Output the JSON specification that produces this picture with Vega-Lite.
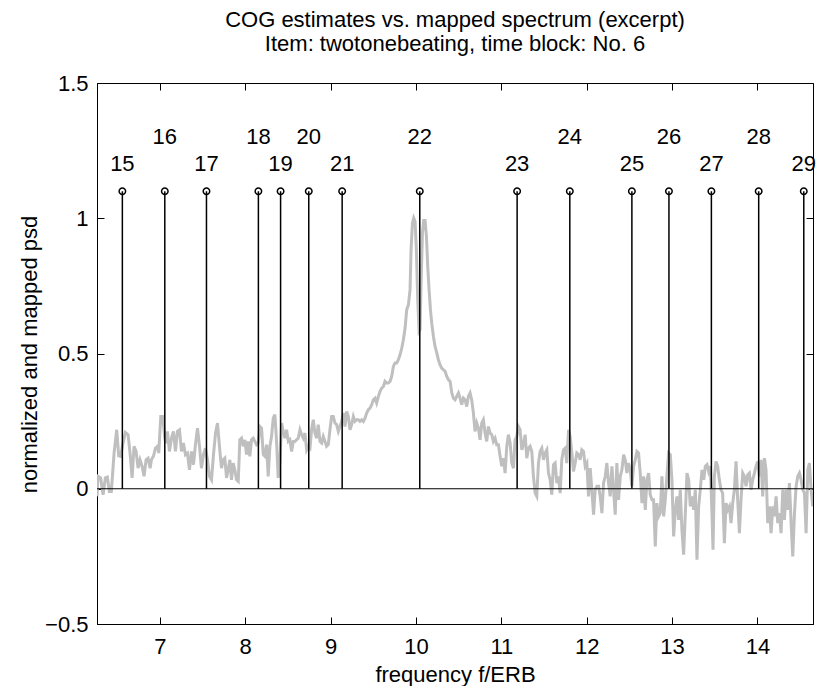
{
  "$schema": "https://vega.github.io/schema/vega-lite/v6.json",
  "width": 716,
  "height": 541,
  "autosize": {"type": "none"},
  "padding": {"left": 97, "top": 83, "right": 5, "bottom": 62},
  "background": "white",
  "config": {
    "view": {"stroke": "black", "strokeWidth": 1},
    "font": "Liberation Sans",
    "axis": {"grid": false, "domainColor": "black", "tickColor": "black", "labelColor": "black", "titleColor": "black", "labelFont": "Liberation Sans", "titleFont": "Liberation Sans", "labelFontSize": 22, "titleFontSize": 22, "titleFontWeight": "normal", "tickSize": -7, "tickWidth": 1, "domainWidth": 1}
  },
  "title": {
    "text": ["COG estimates vs. mapped spectrum (excerpt)", "Item: twotonebeating, time block: No. 6"],
    "font": "Liberation Sans", "fontSize": 22, "fontWeight": "normal", "color": "black", "lineHeight": 24, "anchor": "middle", "offset": 16
  },
  "datasets": {
    "psd": [
      {"f":6.265,"v":-0.028},{"f":6.277,"v":0.046},{"f":6.308,"v":0.040},{"f":6.336,"v":-0.022},{"f":6.363,"v":0.040},{"f":6.386,"v":0.043},{"f":6.410,"v":-0.010},{"f":6.433,"v":-0.010},{"f":6.465,"v":0.132},{"f":6.496,"v":0.218},{"f":6.519,"v":0.122},{"f":6.543,"v":0.120},{"f":6.566,"v":0.163},{"f":6.598,"v":0.208},{"f":6.629,"v":0.200},{"f":6.652,"v":0.132},{"f":6.676,"v":0.040},{"f":6.699,"v":0.157},{"f":6.723,"v":0.138},{"f":6.746,"v":0.076},{"f":6.769,"v":0.107},{"f":6.793,"v":0.083},{"f":6.816,"v":0.046},{"f":6.840,"v":0.107},{"f":6.863,"v":0.113},{"f":6.887,"v":0.076},{"f":6.902,"v":0.107},{"f":6.926,"v":0.120},{"f":6.949,"v":0.150},{"f":6.973,"v":0.157},{"f":6.988,"v":0.132},{"f":7.012,"v":0.267},{"f":7.035,"v":0.267},{"f":7.059,"v":0.187},{"f":7.074,"v":0.169},{"f":7.090,"v":0.212},{"f":7.113,"v":0.138},{"f":7.137,"v":0.187},{"f":7.160,"v":0.212},{"f":7.184,"v":0.138},{"f":7.207,"v":0.212},{"f":7.231,"v":0.218},{"f":7.254,"v":0.138},{"f":7.277,"v":0.169},{"f":7.301,"v":0.126},{"f":7.324,"v":0.132},{"f":7.348,"v":0.070},{"f":7.371,"v":0.138},{"f":7.395,"v":0.089},{"f":7.418,"v":0.163},{"f":7.442,"v":0.224},{"f":7.465,"v":0.157},{"f":7.488,"v":0.076},{"f":7.512,"v":0.126},{"f":7.535,"v":0.150},{"f":7.559,"v":0.107},{"f":7.582,"v":0.046},{"f":7.606,"v":0.033},{"f":7.629,"v":0.126},{"f":7.653,"v":0.206},{"f":7.676,"v":0.243},
      {"f":7.704,"v":0.138},{"f":7.723,"v":0.076},{"f":7.743,"v":0.107},{"f":7.762,"v":0.113},{"f":7.782,"v":0.040},{"f":7.801,"v":0.070},{"f":7.821,"v":0.107},{"f":7.840,"v":0.033},{"f":7.860,"v":0.095},{"f":7.879,"v":0.070},{"f":7.899,"v":0.033},{"f":7.919,"v":0.027},{"f":7.938,"v":0.181},{"f":7.958,"v":0.187},{"f":7.977,"v":0.157},{"f":7.997,"v":0.181},{"f":8.016,"v":0.126},{"f":8.036,"v":0.175},{"f":8.055,"v":0.120},{"f":8.075,"v":0.181},{"f":8.094,"v":0.187},{"f":8.114,"v":0.175},{"f":8.133,"v":0.163},{"f":8.153,"v":0.169},{"f":8.173,"v":0.230},{"f":8.192,"v":0.224},{"f":8.212,"v":0.126},{"f":8.231,"v":0.120},{"f":8.251,"v":0.163},{"f":8.270,"v":0.046},{"f":8.290,"v":0.157},{"f":8.309,"v":0.193},{"f":8.329,"v":0.261},{"f":8.348,"v":0.274},{"f":8.368,"v":0.175},{"f":8.387,"v":0.040},{"f":8.407,"v":0.101},{"f":8.427,"v":0.243},{"f":8.446,"v":0.212},{"f":8.466,"v":0.187},{"f":8.485,"v":0.218},{"f":8.505,"v":0.175},{"f":8.524,"v":0.181},{"f":8.544,"v":0.138},{"f":8.563,"v":0.175},{"f":8.583,"v":0.175},{"f":8.602,"v":0.181},{"f":8.622,"v":0.187},{"f":8.642,"v":0.218},{"f":8.661,"v":0.200},{"f":8.681,"v":0.187},{"f":8.700,"v":0.206},{"f":8.720,"v":0.144},{"f":8.739,"v":0.157},{"f":8.759,"v":0.150},{"f":8.778,"v":0.218},{"f":8.798,"v":0.255},{"f":8.817,"v":0.206},{"f":8.837,"v":0.187},{"f":8.856,"v":0.237},{"f":8.876,"v":0.175},{"f":8.896,"v":0.169},{"f":8.915,"v":0.193},{"f":8.935,"v":0.175},{"f":8.954,"v":0.157},{"f":8.974,"v":0.163},{"f":8.993,"v":0.218},{"f":9.013,"v":0.267},{"f":9.032,"v":0.267},{"f":9.052,"v":0.243},{"f":9.071,"v":0.237},{"f":9.091,"v":0.212},{"f":9.110,"v":0.230},
      {"f":9.130,"v":0.249},{"f":9.150,"v":0.280},{"f":9.169,"v":0.230},{"f":9.189,"v":0.286},{"f":9.208,"v":0.267},{"f":9.228,"v":0.218},{"f":9.247,"v":0.237},{"f":9.267,"v":0.267},{"f":9.286,"v":0.249},{"f":9.306,"v":0.255},{"f":9.326,"v":0.255},{"f":9.345,"v":0.249},{"f":9.365,"v":0.255},{"f":9.384,"v":0.249},{"f":9.404,"v":0.261},{"f":9.423,"v":0.280},{"f":9.443,"v":0.292},{"f":9.462,"v":0.298},{"f":9.482,"v":0.311},{"f":9.501,"v":0.329},{"f":9.521,"v":0.335},{"f":9.540,"v":0.317},{"f":9.560,"v":0.341},{"f":9.580,"v":0.360},{"f":9.599,"v":0.372},{"f":9.619,"v":0.378},{"f":9.638,"v":0.397},{"f":9.658,"v":0.391},{"f":9.677,"v":0.391},{"f":9.697,"v":0.397},{"f":9.716,"v":0.415},{"f":9.736,"v":0.452},{"f":9.755,"v":0.465},{"f":9.775,"v":0.465},{"f":9.794,"v":0.477},{"f":9.814,"v":0.495},{"f":9.834,"v":0.520},{"f":9.853,"v":0.551},{"f":9.873,"v":0.594},{"f":9.892,"v":0.662},{"f":9.912,"v":0.680},{"f":9.931,"v":0.736},{"f":9.943,"v":0.884},{"f":9.959,"v":0.982},{"f":9.974,"v":1.001},{"f":9.990,"v":0.988},{"f":10.005,"v":0.884},{"f":10.021,"v":0.699},{"f":10.037,"v":0.582},{"f":10.048,"v":0.588},{"f":10.060,"v":0.760},{"f":10.076,"v":0.945},{"f":10.091,"v":0.992},{"f":10.107,"v":0.992},{"f":10.123,"v":0.933},{"f":10.138,"v":0.822},{"f":10.154,"v":0.736},{"f":10.170,"v":0.662},{"f":10.185,"v":0.612},{"f":10.205,"v":0.563},{"f":10.224,"v":0.526},{"f":10.244,"v":0.502},{"f":10.263,"v":0.477},{"f":10.283,"v":0.458},{"f":10.302,"v":0.446},{"f":10.322,"v":0.440},{"f":10.342,"v":0.434},{"f":10.361,"v":0.415},{"f":10.381,"v":0.403},{"f":10.400,"v":0.397},{"f":10.420,"v":0.354},{"f":10.439,"v":0.335},{"f":10.459,"v":0.329},{"f":10.478,"v":0.341},{"f":10.498,"v":0.354},{"f":10.517,"v":0.335},
      {"f":10.536,"v":0.311},{"f":10.556,"v":0.335},{"f":10.575,"v":0.329},{"f":10.595,"v":0.304},{"f":10.614,"v":0.341},{"f":10.634,"v":0.354},{"f":10.653,"v":0.329},{"f":10.673,"v":0.280},{"f":10.692,"v":0.212},{"f":10.712,"v":0.243},{"f":10.732,"v":0.224},{"f":10.751,"v":0.181},{"f":10.771,"v":0.243},{"f":10.790,"v":0.255},{"f":10.810,"v":0.206},{"f":10.829,"v":0.175},{"f":10.849,"v":0.230},{"f":10.868,"v":0.206},{"f":10.888,"v":0.200},{"f":10.907,"v":0.175},{"f":10.927,"v":0.187},{"f":10.946,"v":0.163},{"f":10.966,"v":0.163},{"f":10.986,"v":0.120},{"f":11.005,"v":0.083},{"f":11.025,"v":0.113},{"f":11.044,"v":0.058},{"f":11.064,"v":0.157},{"f":11.083,"v":0.200},{"f":11.103,"v":0.169},{"f":11.122,"v":0.095},{"f":11.142,"v":0.076},{"f":11.161,"v":0.181},{"f":11.181,"v":0.193},{"f":11.200,"v":0.230},{"f":11.220,"v":0.218},{"f":11.240,"v":0.144},{"f":11.259,"v":0.163},{"f":11.279,"v":0.200},{"f":11.298,"v":0.113},{"f":11.318,"v":0.150},{"f":11.337,"v":0.157},{"f":11.357,"v":0.138},{"f":11.376,"v":0.046},{"f":11.396,"v":-0.016},{"f":11.415,"v":-0.028},{"f":11.435,"v":0.095},{"f":11.454,"v":0.138},{"f":11.474,"v":0.150},{"f":11.494,"v":0.107},{"f":11.513,"v":0.132},{"f":11.533,"v":0.144},{"f":11.552,"v":0.058},{"f":11.572,"v":0.033},{"f":11.591,"v":-0.022},{"f":11.611,"v":0.089},{"f":11.630,"v":0.095},{"f":11.650,"v":0.021},{"f":11.669,"v":0.046},{"f":11.689,"v":-0.016},{"f":11.708,"v":0.107},{"f":11.728,"v":0.144},{"f":11.748,"v":0.150},{"f":11.767,"v":0.095},{"f":11.787,"v":0.218},{"f":11.806,"v":0.193},{"f":11.826,"v":0.132},{"f":11.845,"v":0.064},{"f":11.865,"v":0.095},{"f":11.884,"v":0.132},{"f":11.904,"v":0.126},{"f":11.923,"v":0.107},
      {"f":11.943,"v":0.144},{"f":11.963,"v":0.138},{"f":11.982,"v":0.083},{"f":12.002,"v":0.095},{"f":12.021,"v":-0.028},{"f":12.041,"v":0.076},{"f":12.060,"v":-0.004},{"f":12.080,"v":-0.096},{"f":12.099,"v":-0.004},{"f":12.119,"v":0.009},{"f":12.139,"v":0.009},{"f":12.158,"v":-0.028},{"f":12.178,"v":-0.090},{"f":12.197,"v":0.021},{"f":12.217,"v":0.046},{"f":12.236,"v":0.095},{"f":12.256,"v":0.021},{"f":12.275,"v":-0.028},{"f":12.295,"v":0.083},{"f":12.314,"v":-0.004},{"f":12.334,"v":-0.096},{"f":12.353,"v":0.095},{"f":12.373,"v":-0.041},{"f":12.393,"v":0.046},{"f":12.412,"v":0.070},{"f":12.432,"v":0.126},{"f":12.451,"v":0.107},{"f":12.471,"v":0.058},{"f":12.490,"v":0.095},{"f":12.510,"v":0.070},{"f":12.529,"v":0.009},{"f":12.549,"v":0.083},{"f":12.568,"v":0.107},{"f":12.588,"v":0.138},{"f":12.607,"v":0.132},{"f":12.627,"v":0.058},{"f":12.647,"v":-0.053},{"f":12.666,"v":0.046},{"f":12.686,"v":-0.078},{"f":12.705,"v":0.033},{"f":12.725,"v":0.058},{"f":12.744,"v":-0.022},{"f":12.764,"v":-0.041},{"f":12.783,"v":-0.041},{"f":12.803,"v":-0.213},{"f":12.822,"v":-0.053},{"f":12.842,"v":-0.102},{"f":12.861,"v":-0.090},{"f":12.881,"v":0.046},{"f":12.901,"v":-0.102},{"f":12.920,"v":-0.041},{"f":12.940,"v":0.052},{"f":12.959,"v":0.132},{"f":12.979,"v":0.126},{"f":12.998,"v":0.033},{"f":13.018,"v":-0.176},{"f":13.037,"v":-0.078},{"f":13.057,"v":-0.028},{"f":13.076,"v":-0.115},{"f":13.096,"v":-0.004},{"f":13.115,"v":-0.152},{"f":13.135,"v":-0.244},{"f":13.155,"v":-0.090},{"f":13.174,"v":0.058},{"f":13.194,"v":0.033},{"f":13.213,"v":-0.065},{"f":13.233,"v":-0.028},{"f":13.252,"v":-0.078},{"f":13.272,"v":-0.004},{"f":13.291,"v":-0.262},{"f":13.311,"v":-0.065},{"f":13.330,"v":-0.004},
      {"f":13.350,"v":0.070},{"f":13.370,"v":0.033},{"f":13.389,"v":0.083},{"f":13.409,"v":0.089},{"f":13.428,"v":0.064},{"f":13.448,"v":0.083},{"f":13.467,"v":-0.090},{"f":13.479,"v":-0.225},{"f":13.495,"v":0.046},{"f":13.514,"v":0.101},{"f":13.534,"v":0.083},{"f":13.553,"v":0.033},{"f":13.573,"v":-0.004},{"f":13.592,"v":-0.016},{"f":13.612,"v":-0.201},{"f":13.632,"v":-0.053},{"f":13.651,"v":-0.078},{"f":13.671,"v":-0.065},{"f":13.690,"v":-0.127},{"f":13.710,"v":-0.053},{"f":13.729,"v":-0.004},{"f":13.749,"v":0.101},{"f":13.768,"v":-0.041},{"f":13.788,"v":-0.164},{"f":13.807,"v":-0.041},{"f":13.827,"v":0.058},{"f":13.846,"v":0.046},{"f":13.866,"v":0.009},{"f":13.886,"v":0.052},{"f":13.905,"v":0.058},{"f":13.925,"v":-0.004},{"f":13.944,"v":0.033},{"f":13.964,"v":0.058},{"f":13.983,"v":0.083},{"f":14.003,"v":0.101},{"f":14.022,"v":0.046},{"f":14.042,"v":0.107},{"f":14.061,"v":-0.028},{"f":14.081,"v":0.113},{"f":14.100,"v":0.070},{"f":14.120,"v":-0.127},{"f":14.140,"v":-0.065},{"f":14.159,"v":-0.164},{"f":14.179,"v":-0.065},{"f":14.198,"v":-0.102},{"f":14.218,"v":-0.028},{"f":14.237,"v":-0.127},{"f":14.257,"v":-0.090},{"f":14.276,"v":-0.164},{"f":14.296,"v":-0.004},{"f":14.315,"v":-0.115},{"f":14.335,"v":-0.004},{"f":14.354,"v":-0.078},{"f":14.374,"v":0.021},{"f":14.394,"v":-0.127},{"f":14.413,"v":-0.250},{"f":14.433,"v":-0.090},{"f":14.452,"v":0.009},{"f":14.472,"v":0.046},{"f":14.491,"v":0.058},{"f":14.511,"v":0.033},{"f":14.530,"v":-0.004},{"f":14.550,"v":-0.016},{"f":14.569,"v":-0.164},{"f":14.589,"v":0.070},{"f":14.608,"v":0.095},{"f":14.628,"v":-0.004},{"f":14.647,"v":-0.065}
    ],
    "cog": [
      {"f":6.562,"n":"15","base":0,"top":1.1,"ly":1.2},
      {"f":7.059,"n":"16","base":0,"top":1.1,"ly":1.3},
      {"f":7.547,"n":"17","base":0,"top":1.1,"ly":1.2},
      {"f":8.155,"n":"18","base":0,"top":1.1,"ly":1.3},
      {"f":8.415,"n":"19","base":0,"top":1.1,"ly":1.2},
      {"f":8.745,"n":"20","base":0,"top":1.1,"ly":1.3},
      {"f":9.136,"n":"21","base":0,"top":1.1,"ly":1.2},
      {"f":10.045,"n":"22","base":0,"top":1.1,"ly":1.3},
      {"f":11.185,"n":"23","base":0,"top":1.1,"ly":1.2},
      {"f":11.802,"n":"24","base":0,"top":1.1,"ly":1.3},
      {"f":12.529,"n":"25","base":0,"top":1.1,"ly":1.2},
      {"f":12.963,"n":"26","base":0,"top":1.1,"ly":1.3},
      {"f":13.460,"n":"27","base":0,"top":1.1,"ly":1.2},
      {"f":14.014,"n":"28","base":0,"top":1.1,"ly":1.3},
      {"f":14.542,"n":"29","base":0,"top":1.1,"ly":1.2}
    ],
    "frame": [{"a": 10, "b": 0}]
  },
  "layer": [
    {
      "data": {"name": "psd"},
      "mark": {"type": "line", "color": "#bfbfbf", "strokeWidth": 3, "clip": true},
      "encoding": {
        "x": {"field": "f", "type": "quantitative", "scale": {"domain": [6.265, 14.65], "nice": false, "zero": false},
              "axis": {"orient": "bottom", "values": [7,8,9,10,11,12,13,14], "title": "frequency f/ERB", "labelPadding": 19, "titleY": 50, "titleBaseline": "middle"}},
        "y": {"field": "v", "type": "quantitative", "scale": {"domain": [-0.5, 1.5], "nice": false, "zero": false},
              "axis": {"orient": "left", "values": [-0.5,0,0.5,1,1.5], "format": "~g", "title": "normalized and mapped psd", "labelPadding": 16, "titleX": -68, "titleY": 271, "titleAngle": -90, "titleAlign": "center", "titleBaseline": "middle"}}
      }
    },
    {
      "data": {"name": "frame"},
      "mark": {"type": "rule", "color": "black", "strokeWidth": 1},
      "encoding": {"y": {"field": "b", "type": "quantitative", "axis": null}}
    },
    {
      "data": {"name": "cog"},
      "mark": {"type": "rule", "color": "black", "strokeWidth": 1.5},
      "encoding": {
        "x": {"field": "f", "type": "quantitative", "axis": null},
        "y": {"field": "base", "type": "quantitative", "axis": null},
        "y2": {"field": "top"}
      }
    },
    {
      "data": {"name": "cog"},
      "mark": {"type": "point", "shape": "circle", "filled": false, "color": "black", "strokeWidth": 1.5, "size": 42, "opacity": 1},
      "encoding": {
        "x": {"field": "f", "type": "quantitative", "axis": null},
        "y": {"field": "top", "type": "quantitative", "axis": null}
      }
    },
    {
      "data": {"name": "cog"},
      "mark": {"type": "text", "font": "Liberation Sans", "fontSize": 22, "color": "black", "align": "center", "baseline": "middle"},
      "encoding": {
        "x": {"field": "f", "type": "quantitative", "axis": null},
        "y": {"field": "ly", "type": "quantitative", "axis": null},
        "text": {"field": "n"}
      }
    },
    {
      "data": {"name": "frame"},
      "mark": {"type": "point", "opacity": 0},
      "encoding": {
        "x": {"field": "a", "type": "quantitative",
              "axis": {"orient": "top", "values": [7,8,9,10,11,12,13,14], "labels": false, "title": null, "domain": false}},
        "y": {"field": "b", "type": "quantitative",
              "axis": {"orient": "right", "values": [-0.5,0,0.5,1,1.5], "labels": false, "title": null, "domain": false}}
      }
    }
  ],
  "resolve": {"axis": {"x": "independent", "y": "independent"}}
}
